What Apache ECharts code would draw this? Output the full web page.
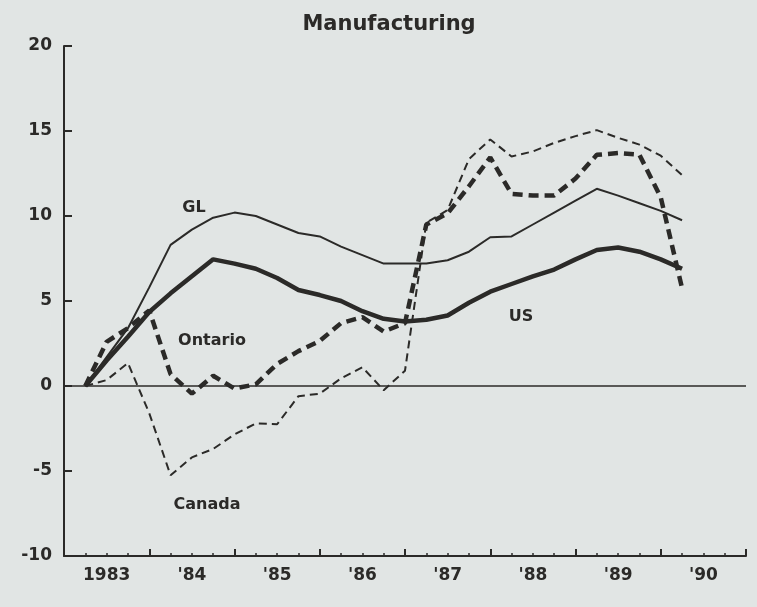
<!DOCTYPE html>
<html>
<head>
<meta charset="utf-8">
<script src="https://cdn.jsdelivr.net/npm/echarts@6/dist/echarts.min.js"></script>
<style>
  html, body { margin: 0; padding: 0; background: #e1e5e4; }
  #chart { width: 757px; height: 607px; }
</style>
</head>
<body>
<div id="chart"></div>
<script>
// Quarter index: 1 = 1983 Q1 ... 29 = 1990 Q1 (0 = start of 1983, 32 = end of 1990)
const quarterIndex = [1, 2, 3, 4, 5, 6, 7, 8, 9, 10, 11, 12, 13, 14, 15, 16, 17, 18, 19, 20, 21, 22, 23, 24, 25, 26, 27, 28, 29];

// Year labels, placed at the middle of each year (in quarter units)
const yearLabels = ['1983', "'84", "'85", "'86", "'87", "'88", "'89", "'90"];
const yearLabelPos = [2, 6, 10, 14, 18, 22, 26, 30];

// Y tick values
const yTicks = { min: -10, max: 20, step: 5 };

// Series values (percent)
const glValues = [0, 1.7, 3.4, 5.8, 8.3, 9.2, 9.9, 10.2, 10.0, 9.5, 9.0, 8.8, 8.2, 7.7, 7.2, 7.2, 7.2, 7.4, 7.9, 8.75, 8.8, 9.5, 10.2, 10.9, 11.6, 11.2, 10.75, 10.3, 9.75];
const usValues = [0, 1.5, 2.9, 4.35, 5.45, 6.45, 7.45, 7.2, 6.9, 6.35, 5.65, 5.35, 5.0, 4.4, 3.95, 3.8, 3.9, 4.15, 4.9, 5.55, 6.0, 6.45, 6.85, 7.45, 8.0, 8.15, 7.9, 7.45, 6.9];
const ontarioValues = [0, 2.6, 3.4, 4.45, 0.7, -0.45, 0.6, -0.15, 0.1, 1.3, 2.05, 2.65, 3.7, 4.05, 3.2, 3.7, 9.5, 10.15, 11.75, 13.45, 11.3, 11.2, 11.2, 12.2, 13.6, 13.7, 13.6, 11.1, 5.75];
const canadaValues = [0, 0.35, 1.35, -1.6, -5.25, -4.2, -3.7, -2.85, -2.2, -2.25, -0.6, -0.45, 0.45, 1.1, -0.25, 0.9, 9.6, 10.35, 13.35, 14.5, 13.5, 13.8, 14.3, 14.7, 15.05, 14.6, 14.2, 13.55, 12.4];

const ink = '#2b2a28';
const font = 'DejaVu Sans';
const pairs = vals => quarterIndex.map((q, i) => [q, vals[i]]);

const chart = echarts.init(document.getElementById('chart'), null, { renderer: 'canvas' });
chart.setOption({
  animation: false,
  backgroundColor: '#e1e5e4',
  grid: { left: 64, right: 11, top: 46, bottom: 51, containLabel: false, outerBoundsMode: 'none' },
  xAxis: {
    type: 'value', min: 0, max: 32, interval: 4,
    axisLine: { show: true, onZero: false, lineStyle: { color: ink, width: 2 } },
    axisTick: { show: true, inside: true, length: 7, lineStyle: { color: ink, width: 2 } },
    minorTick: { show: true, splitNumber: 4, length: 3, lineStyle: { color: ink, width: 1.5 } },
    splitLine: { show: false }, minorSplitLine: { show: false },
    axisLabel: {
      customValues: yearLabelPos,
      formatter: v => { const i = yearLabelPos.indexOf(v); return i >= 0 ? yearLabels[i] : ''; },
      fontFamily: font, fontWeight: 'bold', fontSize: 17, color: ink, margin: 11
    }
  },
  yAxis: {
    type: 'value', min: yTicks.min, max: yTicks.max, interval: yTicks.step,
    axisLine: { show: true, lineStyle: { color: ink, width: 2 } },
    axisTick: { show: true, inside: true, length: 8, lineStyle: { color: ink, width: 2 } },
    splitLine: { show: false },
    axisLabel: { fontFamily: font, fontWeight: 'bold', fontSize: 17, color: ink, margin: 12 }
  },
  series: [
    {
      name: 'GL', type: 'line', data: pairs(glValues), symbol: 'none',
      lineStyle: { color: ink, width: 2 },
      markLine: {
        silent: true, symbol: ['none', 'none'], label: { show: false },
        lineStyle: { color: ink, width: 1.6, type: 'solid' },
        data: [{ yAxis: 0 }]
      }
    },
    { name: 'US', type: 'line', data: pairs(usValues), symbol: 'none',
      lineStyle: { color: ink, width: 4.5 } },
    { name: 'Ontario', type: 'line', data: pairs(ontarioValues), symbol: 'none',
      lineStyle: { color: ink, width: 4.5, type: [10, 6] } },
    { name: 'Canada', type: 'line', data: pairs(canadaValues), symbol: 'none',
      lineStyle: { color: ink, width: 2, type: [8, 5] } }
  ],
  graphic: [
    { type: 'text', x: 389, y: 25, style: { text: 'Manufacturing', font: 'bold 21px "DejaVu Sans"', fill: ink, align: 'center', verticalAlign: 'middle' } },
    { type: 'text', x: 194, y: 208, style: { text: 'GL', font: 'bold 16px "DejaVu Sans"', fill: ink, align: 'center', verticalAlign: 'middle' } },
    { type: 'text', x: 212, y: 341, style: { text: 'Ontario', font: 'bold 16px "DejaVu Sans"', fill: ink, align: 'center', verticalAlign: 'middle' } },
    { type: 'text', x: 521, y: 317, style: { text: 'US', font: 'bold 16px "DejaVu Sans"', fill: ink, align: 'center', verticalAlign: 'middle' } },
    { type: 'text', x: 207, y: 505, style: { text: 'Canada', font: 'bold 16px "DejaVu Sans"', fill: ink, align: 'center', verticalAlign: 'middle' } }
  ]
});
</script>
</body>
</html>
